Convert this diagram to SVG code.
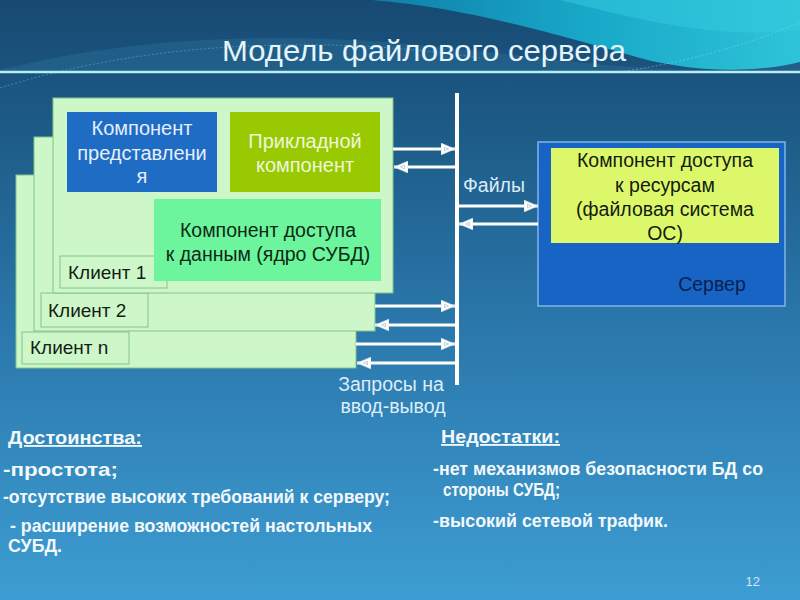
<svg xmlns="http://www.w3.org/2000/svg" width="800" height="600" viewBox="0 0 800 600">
<defs>
<linearGradient id="bg" x1="0" y1="0" x2="0" y2="1">
<stop offset="0" stop-color="#174a72"/>
<stop offset="0.2" stop-color="#1c5a85"/>
<stop offset="0.55" stop-color="#2b78ac"/>
<stop offset="1" stop-color="#3d9dd2"/>
</linearGradient>
<linearGradient id="sw" x1="0" y1="0" x2="1" y2="0">
<stop offset="0" stop-color="#0f7ea8"/>
<stop offset="0.5" stop-color="#18a8c8"/>
<stop offset="1" stop-color="#2ec4d8"/>
</linearGradient>
<marker id="ah" viewBox="0 0 14 12" refX="14" refY="6" markerWidth="14" markerHeight="12" orient="auto" markerUnits="userSpaceOnUse">
<path d="M0,0 L14,6 L0,12 Z" fill="#ffffff" stroke="#c8d8e4" stroke-width="0.6"/>
<path d="M3.5,4.2 L7.5,6 L3.5,7.8 Z" fill="none" stroke="#9ab0c0" stroke-width="0.6"/>
</marker>
<style>
.card{fill:#cdf7c9;stroke:#86c486;stroke-width:1}
.lbl{fill:#cdf7c9;stroke:#86c486;stroke-width:1}
.t{font-family:"Liberation Sans",Arial,sans-serif}
.dark{fill:#141c14;font-size:19px}
.arr{stroke:#ffffff;stroke-width:3;fill:none;marker-end:url(#ah)}
.lt{fill:#dcedf8;font-size:19.5px}
.bt{fill:#f2f8fc;font-size:18.5px;font-weight:bold}
.mid{font-size:19.5px}
</style>
</defs>
<rect x="0" y="0" width="800" height="600" fill="url(#bg)"/>
<path d="M0,70 C120,40 260,30 420,45 C560,58 680,82 800,62 L800,72 L0,72 Z" fill="#2a6e98" opacity="0.45"/>
<path d="M372,0 C470,8 560,36 640,58 C700,74 760,72 800,62 L800,0 Z" fill="url(#sw)"/>
<path d="M560,0 C640,20 720,40 800,30 L800,0 Z" fill="#36cbe0" opacity="0.5"/>
<path d="M0,88 C150,40 330,35 480,58" fill="none" stroke="#6fb8d8" stroke-width="0.8" stroke-dasharray="2,2" opacity="0.6"/>
<path d="M620,72 C700,60 760,40 800,22" fill="none" stroke="#8fd8e8" stroke-width="0.8" stroke-dasharray="2,2" opacity="0.6"/>
<line x1="0" y1="72" x2="800" y2="72" stroke="#b4ecf8" stroke-width="2.5"/>
<text class="t" x="424" y="61" text-anchor="middle" font-size="30" fill="#e4f4fb" textLength="404" lengthAdjust="spacingAndGlyphs">Модель файлового сервера</text>

<g id="client-n">
<rect class="card" x="16" y="175" width="340" height="193"/>
<rect class="lbl" x="22" y="332" width="107" height="32"/>
<text class="t dark" x="30" y="354">Клиент n</text>
</g>
<g id="client-2">
<rect class="card" x="34" y="137" width="341" height="194"/>
<rect class="lbl" x="41" y="293" width="107" height="34"/>
<text class="t dark" x="48" y="317">Клиент 2</text>
</g>
<g id="client-1">
<rect class="card" x="53" y="98" width="340" height="195"/>
<rect class="lbl" x="60" y="256" width="107" height="32"/>
<text class="t dark" x="68" y="279">Клиент 1</text>
</g>
<g id="presentation">
<rect x="67" y="112" width="150" height="80" fill="#1f6cc4"/>
<text class="t" x="142" y="135" text-anchor="middle" font-size="20" fill="#e6eefa">Компонент</text>
<text class="t" x="142" y="160" text-anchor="middle" font-size="20" fill="#e6eefa">представлени</text>
<text class="t" x="142" y="183" text-anchor="middle" font-size="20" fill="#e6eefa">я</text>
</g>
<g id="application">
<rect x="230" y="112" width="150" height="80" fill="#99c900"/>
<text class="t" x="305" y="148" text-anchor="middle" font-size="20" fill="#eef6dc">Прикладной</text>
<text class="t" x="305" y="172" text-anchor="middle" font-size="20" fill="#eef6dc">компонент</text>
</g>
<g id="data-access">
<rect x="154" y="199" width="227" height="82" fill="#6cf59c"/>
<text class="t mid" x="268" y="237" text-anchor="middle" fill="#0c2a14">Компонент доступа</text>
<text class="t mid" x="268" y="261" text-anchor="middle" fill="#0c2a14">к данным (ядро СУБД)</text>
</g>
<g id="bus">
<rect x="455" y="93" width="4" height="292" fill="#ffffff"/>
</g>
<g id="server">
<rect x="538" y="142" width="247" height="164" fill="#1764c4" stroke="#80b4ec" stroke-width="1.5"/>
<rect x="551" y="148" width="228" height="95" fill="#dcf86a"/>
<text class="t mid" x="665" y="167" text-anchor="middle" fill="#141c10">Компонент доступа</text>
<text class="t mid" x="665" y="192" text-anchor="middle" fill="#141c10">к ресурсам</text>
<text class="t mid" x="665" y="216" text-anchor="middle" fill="#141c10">(файловая система</text>
<text class="t mid" x="665" y="240" text-anchor="middle" fill="#141c10">ОС)</text>
<text class="t mid" x="712" y="291" text-anchor="middle" fill="#0b2150">Сервер</text>
</g>
<g id="connectors">
<path class="arr" d="M393,149 L455,149"/>
<path class="arr" d="M456,167 L394,167"/>
<path class="arr" d="M459,206 L538,206"/>
<path class="arr" d="M538,224 L459,224"/>
<path class="arr" d="M375,306 L455,306"/>
<path class="arr" d="M456,325 L375,325"/>
<path class="arr" d="M356,344 L455,344"/>
<path class="arr" d="M456,363 L357,363"/>
</g>
<text class="t lt" x="463" y="192">Файлы</text>
<text class="t lt" x="391" y="391" text-anchor="middle">Запросы на</text>
<text class="t lt" x="393" y="413" text-anchor="middle">ввод-вывод</text>

<text class="t bt" x="8" y="444" text-decoration="underline" fill="#dcefff" textLength="134" lengthAdjust="spacingAndGlyphs">Достоинства:</text>
<text class="t bt" x="3" y="476" textLength="115" lengthAdjust="spacingAndGlyphs">-простота;</text>
<text class="t bt" x="3" y="503" textLength="387" lengthAdjust="spacingAndGlyphs">-отсутствие высоких требований к серверу;</text>
<text class="t bt" x="10" y="532" textLength="362" lengthAdjust="spacingAndGlyphs">- расширение возможностей настольных</text>
<text class="t bt" x="8" y="552" textLength="54" lengthAdjust="spacingAndGlyphs">СУБД.</text>

<text class="t bt" x="441" y="443" text-decoration="underline" fill="#dcefff" textLength="119" lengthAdjust="spacingAndGlyphs">Недостатки:</text>
<text class="t bt" x="433" y="475" textLength="330" lengthAdjust="spacingAndGlyphs">-нет механизмов безопасности БД со</text>
<text class="t bt" x="443" y="496" textLength="117" lengthAdjust="spacingAndGlyphs">стороны СУБД;</text>
<text class="t bt" x="433" y="527" textLength="235" lengthAdjust="spacingAndGlyphs">-высокий сетевой трафик.</text>
<text class="t" x="760" y="586" text-anchor="end" font-size="13" fill="#cfe6f6">12</text>
</svg>
